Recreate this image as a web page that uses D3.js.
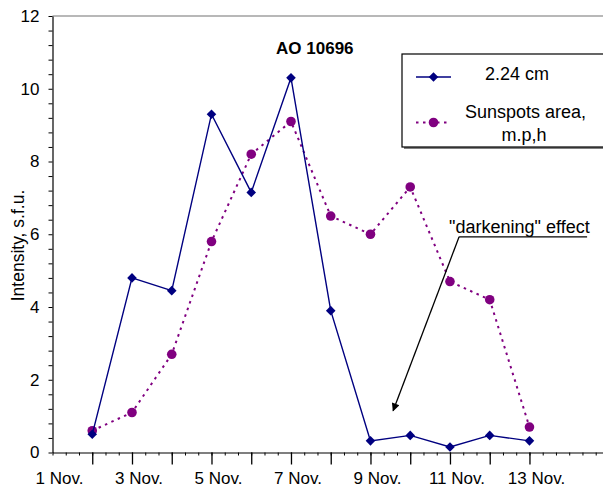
<!DOCTYPE html>
<html>
<head>
<meta charset="utf-8">
<script src="https://cdn.jsdelivr.net/npm/d3@7"></script>
<style>
  body { margin: 0; background: #fff; }
  text { font-family: "Liberation Sans", Arial, sans-serif; fill: #000; }
</style>
</head>
<body>
<svg id="chart" width="603" height="490"></svg>
<script>
// Observation days (November) and the two measured series
const days = [2, 3, 4, 5, 6, 7, 8, 9, 10, 11, 12, 13];
const flux224 = [0.5, 4.8, 4.45, 9.3, 7.15, 10.3, 3.9, 0.32, 0.47, 0.15, 0.47, 0.32];
const sunspotArea = [0.6, 1.1, 2.7, 5.8, 8.2, 9.1, 6.5, 6.0, 7.3, 4.7, 4.2, 0.7];

const xLabelDays = [1, 3, 5, 7, 9, 11, 13];
const xTickLabels = ["1 Nov.", "3 Nov.", "5 Nov.", "7 Nov.", "9 Nov.", "11 Nov.", "13 Nov."];
const yTicks = [0, 2, 4, 6, 8, 10, 12];

const seriesNames = ["2.24 cm", "Sunspots area,", "m.p,h"];
const chartTitle = "AO 10696";
const yTitle = "Intensity, s.f.u.";
const noteText = "\"darkening\" effect";

const svg = d3.select("#chart");
const W = 603, H = 490;
const plotLeft = 52.5, plotTop = 16, plotBottom = 452.5;

const x = d3.scaleLinear().domain([1, 14.85]).range([plotLeft, W]);
const y = d3.scaleLinear().domain([0, 12]).range([plotBottom, plotTop]);

const navy = "#000080", purple = "#800080";

// frame: grey top border
svg.append("line")
  .attr("x1", plotLeft).attr("x2", W)
  .attr("y1", y(12)).attr("y2", y(12))
  .attr("stroke", "#a0a0a0").attr("stroke-width", 1.5);

// y axis with minor ticks every 0.4, labels every 2
const yMinor = d3.range(31).map(i => +(i * 0.4).toFixed(2));
const yAxis = d3.axisLeft(y)
  .tickValues(yMinor)
  .tickSizeInner(4).tickSizeOuter(0).tickPadding(9)
  .tickFormat(v => yTicks.includes(v) ? String(v) : "");
const gy = svg.append("g").attr("transform", `translate(${plotLeft},0)`).call(yAxis);
gy.select(".domain").attr("stroke", "#000").attr("stroke-width", 1.2);
gy.selectAll(".tick line").attr("stroke", "#000").attr("stroke-width", 1);
gy.selectAll(".tick text")
  .style("font-size", "17px")
  .style("font-family", "'Liberation Sans', Arial, sans-serif")
  .attr("fill", "#000");

// x axis: minor ticks every third of a day, longer ticks at each observation day
const xMinor = d3.range(0, 42).map(i => 1 + i / 3).filter(d => d <= 14.85);
const xAxisMinor = d3.axisBottom(x)
  .tickValues(xMinor).tickSizeInner(3).tickSizeOuter(0).tickFormat("");
const gx = svg.append("g").attr("transform", `translate(0,${plotBottom})`).call(xAxisMinor);
gx.select(".domain").attr("stroke", "#000").attr("stroke-width", 1.2);
gx.selectAll(".tick line").attr("stroke", "#000").attr("stroke-width", 1);

const xAxisMajor = d3.axisBottom(x)
  .tickValues(days).tickSizeInner(12).tickSizeOuter(0).tickFormat("");
const gxm = svg.append("g").attr("transform", `translate(0,${plotBottom})`).call(xAxisMajor);
gxm.select(".domain").remove();
gxm.selectAll(".tick line").attr("stroke", "#000").attr("stroke-width", 1.3);

// x tick labels (odd days)
svg.append("g").selectAll("text")
  .data(xLabelDays)
  .join("text")
  .attr("x", d => x(d) + 7)
  .attr("y", 484)
  .attr("text-anchor", "middle")
  .style("font-size", "17px")
  .text((d, i) => xTickLabels[i]);

// y axis title
svg.append("text")
  .attr("transform", `translate(24,${245.5}) rotate(-90)`)
  .attr("text-anchor", "middle")
  .style("font-size", "17.5px")
  .text(yTitle);

// chart title
svg.append("text")
  .attr("x", x(7.6)).attr("y", 54)
  .attr("text-anchor", "middle")
  .style("font-size", "17px").style("font-weight", "bold")
  .text(chartTitle);

// series: sunspot area (dotted, circles)
const ptsArea = days.map((d, i) => [d, sunspotArea[i]]);
const ptsFlux = days.map((d, i) => [d, flux224[i]]);
const line = d3.line().x(d => x(d[0])).y(d => y(d[1]));

svg.append("path")
  .attr("d", line(ptsArea))
  .attr("fill", "none").attr("stroke", purple)
  .attr("stroke-width", 2).attr("stroke-dasharray", "2.5,4.5");

svg.append("g").selectAll("circle")
  .data(ptsArea).join("circle")
  .attr("cx", d => x(d[0])).attr("cy", d => y(d[1]))
  .attr("r", 4.8).attr("fill", purple);

// series: 2.24 cm flux (solid, diamonds)
svg.append("path")
  .attr("d", line(ptsFlux))
  .attr("fill", "none").attr("stroke", navy).attr("stroke-width", 1.4);

const diamond = d3.symbol().type(d3.symbolSquare).size(46);
svg.append("g").selectAll("path")
  .data(ptsFlux).join("path")
  .attr("d", diamond)
  .attr("transform", d => `translate(${x(d[0])},${y(d[1])}) rotate(45)`)
  .attr("fill", navy);

// annotation: arrow pointing at the low flux after 9 Nov.
const noteAnchor = [11.23, 5.93];   // start of the leader, day / value
const noteTip = [9.57, 1.15];       // arrow tip
const noteEnd = 14.45;              // end of the underline (day)

svg.append("defs").append("marker")
  .attr("id", "arrowhead")
  .attr("viewBox", "0 0 10 10").attr("refX", 9).attr("refY", 5)
  .attr("markerWidth", 10).attr("markerHeight", 8)
  .attr("markerUnits", "userSpaceOnUse")
  .attr("orient", "auto")
  .append("path").attr("d", "M0,0 L10,5 L0,10 Z").attr("fill", "#000");

svg.append("line")
  .attr("x1", x(noteAnchor[0])).attr("y1", y(noteAnchor[1]))
  .attr("x2", x(noteEnd)).attr("y2", y(noteAnchor[1]))
  .attr("stroke", "#000").attr("stroke-width", 1.3);

svg.append("line")
  .attr("x1", x(noteAnchor[0])).attr("y1", y(noteAnchor[1]))
  .attr("x2", x(noteTip[0])).attr("y2", y(noteTip[1]))
  .attr("stroke", "#000").attr("stroke-width", 1.3)
  .attr("marker-end", "url(#arrowhead)");

svg.append("text")
  .attr("x", x(noteAnchor[0]) - 10).attr("y", y(noteAnchor[1]) - 3.5)
  .style("font-size", "18px")
  .text(noteText);

// legend
const lg = svg.append("g").attr("transform", "translate(402,54)");
lg.append("rect").attr("x", 2).attr("y", 2).attr("width", 210).attr("height", 93).attr("fill", "#808080");
lg.append("rect").attr("x", 0).attr("y", 0).attr("width", 210).attr("height", 93)
  .attr("fill", "#fff").attr("stroke", "#000").attr("stroke-width", 1.2);

lg.append("line").attr("x1", 14).attr("x2", 49).attr("y1", 23).attr("y2", 23)
  .attr("stroke", navy).attr("stroke-width", 1.4);
lg.append("path").attr("d", diamond)
  .attr("transform", "translate(31.5,23) rotate(45)").attr("fill", navy);
lg.append("text").attr("x", 115).attr("y", 25.5).attr("text-anchor", "middle")
  .style("font-size", "18px").text(seriesNames[0]);

lg.append("line").attr("x1", 14).attr("x2", 49).attr("y1", 68.5).attr("y2", 68.5)
  .attr("stroke", purple).attr("stroke-width", 2).attr("stroke-dasharray", "2.5,4.5");
lg.append("circle").attr("cx", 31.5).attr("cy", 68.5).attr("r", 4.8).attr("fill", purple);
lg.append("text").attr("x", 123.5).attr("y", 63.5).attr("text-anchor", "middle")
  .style("font-size", "18px").text(seriesNames[1]);
lg.append("text").attr("x", 122).attr("y", 86.5).attr("text-anchor", "middle")
  .style("font-size", "18px").text(seriesNames[2]);
</script>
</body>
</html>
